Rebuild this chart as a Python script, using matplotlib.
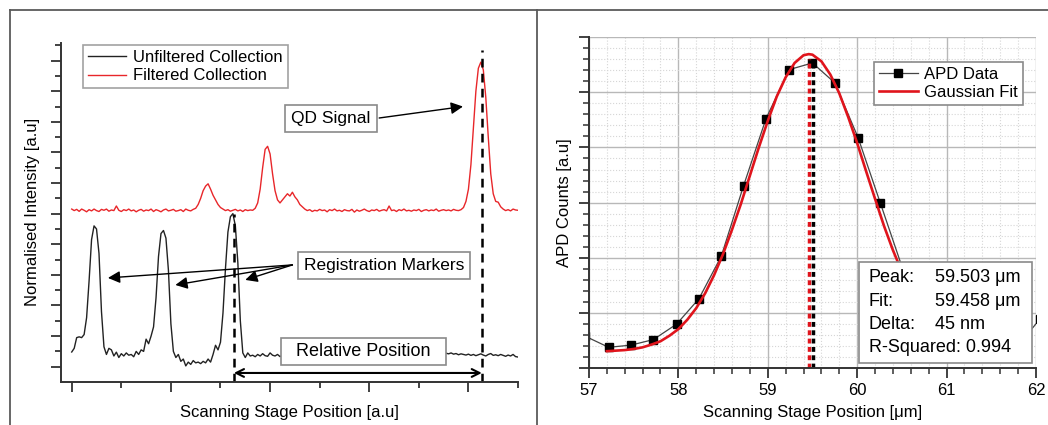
import numpy as np
import matplotlib
matplotlib.use("Agg")
import matplotlib.pyplot as plt
from matplotlib.lines import Line2D
from matplotlib.patches import Rectangle
from matplotlib.ticker import MultipleLocator, NullFormatter

plt.rcParams['font.family'] = ['Liberation Sans', 'DejaVu Sans']
plt.rcParams['font.size'] = 12

# ---- left panel: line scans (x step 0.05 a.u.) ----
scan_x = np.linspace(0, 9, 181)
unfiltered = [
    0.96, 1.2, 1.9, 1.95, 1.9, 2.1, 3.2, 5.6, 8.3, 9.2,
    9.0, 7.4, 3.6, 1.3, 0.8, 1.2, 1.1, 0.7, 0.95, 0.6,
    0.85, 0.7, 0.9, 0.75, 0.8, 0.65, 1.0, 0.8, 1.1, 1.0,
    1.8, 1.5, 2.0, 2.6, 4.5, 7.2, 8.7, 8.9, 8.4, 6.3,
    2.8, 1.0, 0.6, 0.8, 0.35, 0.5, 0.05, 0.3, 0.15, 0.4,
    0.25, 0.3, 0.2, 0.35, 0.25, 0.5, 0.3, 0.8, 1.4, 1.1,
    1.6, 3.5, 6.4, 8.8, 9.8, 10.0, 9.2, 6.8, 3.0, 0.9,
    0.6, 0.9, 0.7,
    0.75, 0.65, 0.8, 0.7, 0.85, 0.72, 0.68, 0.9, 0.75, 0.7,
    0.8, 0.66, 0.74, 0.82, 0.7, 0.76, 0.64, 0.78, 0.72, 0.8,
    0.7, 0.74, 0.66, 0.8, 0.72, 0.78, 0.68, 0.75, 0.7, 0.84,
    0.72, 0.66, 0.76, 0.7, 0.8, 0.68, 0.74, 0.62, 0.7, 0.78,
    0.66, 0.72, 0.6, 0.7, 0.64, 0.74, 0.68, 0.62, 0.72, 0.66,
    0.7, 0.6, 0.68, 0.74, 0.64, 0.7, 0.66, 0.72, 0.76, 0.7,
    0.8, 0.74, 0.84, 0.78, 0.86, 0.8, 0.76, 0.88, 0.82, 0.78,
    0.86, 0.8, 0.9, 0.84, 0.8, 0.92, 0.86, 0.95, 0.88, 0.84,
    0.9, 0.82, 0.86, 0.78, 0.84, 0.8, 0.76, 0.82, 0.74, 0.8,
    0.72, 0.78, 0.84, 0.76, 0.7, 0.8, 0.86, 0.74, 0.78, 0.72,
    0.8, 0.74, 0.68, 0.76, 0.7, 0.8, 0.66, 0.63,
]
filtered = [
    10.3, 10.2, 10.28, 10.15, 10.3, 10.22, 10.12, 10.26, 10.18, 10.3,
    10.2, 10.14, 10.28, 10.22, 10.3, 10.16, 10.24, 10.2, 10.5, 10.22,
    10.14, 10.26, 10.2, 10.3, 10.18, 10.24, 10.12, 10.22, 10.28, 10.16,
    10.24, 10.2, 10.3, 10.14, 10.26, 10.2, 10.12, 10.24, 10.3, 10.18,
    10.22, 10.28, 10.16, 10.2, 10.26, 10.14, 10.3, 10.22, 10.18, 10.28,
    10.35, 10.6, 11.0, 11.5, 11.8, 11.95, 11.6, 11.2, 10.9, 10.6,
    10.4, 10.3, 10.2, 10.26, 10.16, 10.22, 10.28, 10.18, 10.24, 10.14,
    10.26, 10.2, 10.24, 10.22, 10.35, 10.7, 11.6, 13.0, 14.2, 14.4,
    13.9, 12.6, 11.5, 10.9, 10.7, 10.9, 11.1, 11.3, 11.15, 11.4,
    11.1, 10.9, 10.6, 10.45, 10.3, 10.2, 10.26, 10.14, 10.22, 10.18,
    10.28, 10.2, 10.24, 10.12, 10.26, 10.2, 10.3, 10.18, 10.22, 10.14,
    10.26, 10.2, 10.18, 10.28, 10.1, 10.24, 10.16, 10.22, 10.3, 10.2,
    10.14, 10.24, 10.2, 10.28, 10.16, 10.22, 10.26, 10.18, 10.5, 10.2,
    10.24, 10.14, 10.26, 10.2, 10.3, 10.18, 10.22, 10.16, 10.24, 10.2,
    10.28, 10.14, 10.22, 10.26, 10.18, 10.24, 10.2, 10.3, 10.16, 10.22,
    10.26, 10.2, 10.24, 10.18, 10.28, 10.22, 10.2, 10.26, 10.4, 10.8,
    11.6, 13.2, 15.6, 18.0, 19.5, 19.9, 19.4, 17.6, 15.0, 12.6,
    11.3, 10.8, 10.75, 10.45, 10.3, 10.2, 10.26, 10.18, 10.3, 10.24,
    10.22,
]
marker_x = 3.27      # registration marker peak
qd_x = 8.27          # QD peak
marker_top = 10.0
qd_top = 20.7

# ---- right panel: APD scan and Gaussian fit ----
apd_x = [56.96, 57.22, 57.47, 57.72, 57.98, 58.23, 58.48, 58.73, 58.98,
         59.24, 59.50, 59.75, 60.01, 60.26, 60.52, 60.77, 61.03, 61.28,
         61.54, 61.79, 62.05]
apd_y = [0.58, 0.38, 0.42, 0.52, 0.80, 1.26, 2.03, 3.31, 4.52,
         5.41, 5.53, 5.17, 4.18, 2.99, 1.75, 1.0, 0.6, 0.45,
         0.4, 0.4, 0.9]
fit_x = [57.2, 57.3, 57.4, 57.5, 57.6, 57.7, 57.8, 57.9, 58.0, 58.1,
         58.2, 58.3, 58.4, 58.5, 58.6, 58.7, 58.8, 58.9, 59.0, 59.1,
         59.2, 59.3, 59.4, 59.458, 59.5, 59.6, 59.7, 59.8, 59.9, 60.0,
         60.1, 60.2, 60.3, 60.4, 60.5]
fit_y = [0.31, 0.32, 0.33, 0.35, 0.38, 0.43, 0.49, 0.59, 0.71, 0.88,
         1.09, 1.36, 1.69, 2.07, 2.51, 2.98, 3.49, 4.0, 4.48, 4.92,
         5.27, 5.53, 5.67, 5.69, 5.68, 5.56, 5.32, 4.98, 4.55, 4.08,
         3.57, 3.07, 2.58, 2.14, 1.75]
peak_pos = 59.503
fit_pos = 59.458
peak_top = 5.53
fit_top = 5.6

fig = plt.figure(figsize=(10.48, 4.25), dpi=100)

# panel frames
frame_kw = dict(color='#5a5a5a', lw=1.3, transform=fig.transFigure)
fig.add_artist(Line2D([10/1048, 1], [1 - 10/425, 1 - 10/425], **frame_kw))
fig.add_artist(Line2D([10/1048, 10/1048], [0, 1 - 10/425], **frame_kw))
fig.add_artist(Line2D([537/1048, 537/1048], [0, 1 - 10/425], **frame_kw))

# ---------- left ----------
ax1 = fig.add_axes([0.0585, 0.1019, 0.4358, 0.7969])
ax1.plot(scan_x, unfiltered, color='#222222', lw=1.0, label='Unfiltered Collection')
ax1.plot(scan_x, filtered, color='#e8262a', lw=1.0, label='Filtered Collection')
ax1.set_xlim(-0.21, 9.0)
ax1.set_ylim(-0.98, 21.15)
ax1.spines['top'].set_visible(False)
ax1.spines['right'].set_visible(False)
for s in ['left', 'bottom']:
    ax1.spines[s].set_linewidth(1.4)
    ax1.spines[s].set_color('#333333')
ax1.xaxis.set_major_locator(MultipleLocator(2))
ax1.xaxis.set_minor_locator(MultipleLocator(1))
ax1.yaxis.set_major_locator(MultipleLocator(2))
ax1.yaxis.set_minor_locator(MultipleLocator(1))
ax1.xaxis.set_major_formatter(NullFormatter())
ax1.yaxis.set_major_formatter(NullFormatter())
ax1.tick_params(which='major', length=7, width=1.3, color='#333333', direction='out')
ax1.tick_params(which='minor', length=4, width=1.3, color='#333333', direction='out')
ax1.set_xlabel('Scanning Stage Position [a.u]', va='center')
ax1.xaxis.set_label_coords(0.5, -0.09)
ax1.set_ylabel('Normalised Intensity [a.u]', va='center')
ax1.yaxis.set_label_coords(-0.062, 0.5)

dash = (0, (3.5, 2.5))
ax1.plot([marker_x, marker_x], [-0.98, marker_top], color='black', lw=1.8, ls=dash)
ax1.plot([qd_x, qd_x], [-0.98, qd_top], color='black', lw=1.8, ls=dash)
ax1.annotate('', xy=(qd_x, -0.41), xytext=(marker_x, -0.41),
             arrowprops=dict(arrowstyle='<->', color='black', lw=1.5,
                             shrinkA=0, shrinkB=0, mutation_scale=14))

box = dict(boxstyle='square,pad=0.35', fc='white', ec='#8a8a8a', lw=1.2)
arrow = dict(arrowstyle='-|>', color='black', lw=1.0, shrinkA=0, shrinkB=0,
             mutation_scale=18)
ax1.annotate('', xy=(7.89, 17.0), xytext=(6.2, 16.25), arrowprops=arrow)
ax1.text(5.23, 16.2, 'QD Signal', ha='center', va='center', fontsize=12.5,
         bbox=box, zorder=5)
for tip in [(0.73, 5.8), (2.09, 5.34), (3.5, 5.67)]:
    ax1.annotate('', xy=tip, xytext=(4.45, 6.65), arrowprops=arrow)
ax1.text(6.3, 6.6, 'Registration Markers', ha='center', va='center',
         fontsize=12.5, bbox=box, zorder=5)
ax1.text(5.88, 0.99, '  Relative Position  ', ha='center', va='center',
         fontsize=13, bbox=dict(boxstyle='square,pad=0.3', fc='white',
                                ec='#8a8a8a', lw=1.2), zorder=5)

leg1 = ax1.legend(loc='upper left', bbox_to_anchor=(0.0475, 0.994),
                  borderaxespad=0, fancybox=False, edgecolor='#8a8a8a',
                  handlelength=2.3, handletextpad=0.4, borderpad=0.3,
                  labelspacing=0.2, fontsize=12)
leg1.get_frame().set_linewidth(1.2)

# ---------- right ----------
ax2 = fig.add_axes([0.562, 0.1334, 0.4265, 0.7795])
ax2.set_xlim(57, 62)
ax2.set_ylim(0, 6)
ax2.set_axisbelow(True)
ax2.xaxis.set_major_locator(MultipleLocator(1))
ax2.xaxis.set_minor_locator(MultipleLocator(0.2))
ax2.yaxis.set_major_locator(MultipleLocator(1))
ax2.yaxis.set_minor_locator(MultipleLocator(0.2))
ax2.yaxis.set_major_formatter(NullFormatter())
ax2.grid(which='major', color='#b8b8b8', lw=1.0)
ax2.grid(which='minor', color='#d6d6d6', lw=0.8, ls=':')
ax2.spines['top'].set_visible(False)
ax2.spines['right'].set_visible(False)
for s in ['left', 'bottom']:
    ax2.spines[s].set_linewidth(1.4)
    ax2.spines[s].set_color('#333333')
ax2.tick_params(which='major', length=7, width=1.3, color='#333333', direction='out', labelsize=12)
ax2.tick_params(which='minor', length=4, width=1.1, color='#333333', direction='out')

ax2.plot(apd_x, apd_y, color='#444444', lw=0.9, marker='s', markersize=6,
         markerfacecolor='black', markeredgecolor='black', label='APD Data')
ax2.plot(fit_x, fit_y, color='#e0141c', lw=1.9, label='Gaussian Fit')
ax2.plot([fit_pos, fit_pos], [0, fit_top], color='#e0141c', lw=2.5, ls=(0, (1.4, 1.0)))
ax2.plot([peak_pos, peak_pos], [0, peak_top], color='black', lw=2.5, ls=(0, (1.4, 1.0)))
ax2.set_xlabel('Scanning Stage Position [μm]', va='center')
ax2.xaxis.set_label_coords(0.5, -0.132)
ax2.set_ylabel('APD Counts [a.u]', va='center')
ax2.yaxis.set_label_coords(-0.054, 0.5)

leg2 = ax2.legend(loc='upper right', bbox_to_anchor=(0.971, 0.925),
                  borderaxespad=0, fancybox=False, edgecolor='#8a8a8a',
                  framealpha=1, handlelength=2.3, handletextpad=0.4,
                  borderpad=0.3, labelspacing=0.2, fontsize=12)
leg2.get_frame().set_linewidth(1.2)

ax2.add_patch(Rectangle((0.604, 0.016), 0.387, 0.305, transform=ax2.transAxes,
                        fc='white', ec='#8a8a8a', lw=1.2, zorder=6))
stats = [('Peak:', '59.503 μm'), ('Fit:', '59.458 μm'),
         ('Delta:', '45 nm'), ('R-Squared:', '0.994')]
rows = [0.2726, 0.2003, 0.1309, 0.0613]
for (lab, val), yy in zip(stats, rows):
    if lab == 'R-Squared:':
        ax2.text(0.626, yy, lab + ' ' + val, transform=ax2.transAxes,
                 va='center', fontsize=13, zorder=7)
    else:
        ax2.text(0.626, yy, lab, transform=ax2.transAxes, va='center',
                 fontsize=13, zorder=7)
        ax2.text(0.774, yy, val, transform=ax2.transAxes, va='center',
                 fontsize=13, zorder=7)

fig.savefig('out.png', dpi=100)
